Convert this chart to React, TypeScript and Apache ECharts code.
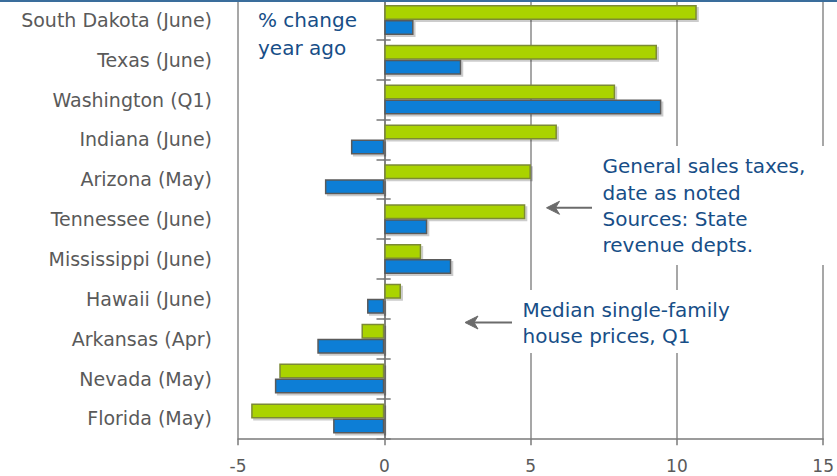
import React, { useEffect, useRef } from "react";
import * as echarts from "echarts";

const categories = [
  "South Dakota (June)",
  "Texas (June)",
  "Washington (Q1)",
  "Indiana (June)",
  "Arizona (May)",
  "Tennessee (June)",
  "Mississippi (June)",
  "Hawaii (June)",
  "Arkansas (Apr)",
  "Nevada (May)",
  "Florida (May)",
];
const salesTaxes = [10.68, 9.32, 7.89, 5.9, 5.01, 4.82, 1.26, 0.57, -0.78, -3.59, -4.55];
const housePrices = [1.0, 2.63, 9.47, -1.14, -2.03, 1.47, 2.29, -0.59, -2.29, -3.74, -1.75];
const xTicks = { min: -5, max: 15, interval: 5 };

const FONT = "DejaVu Sans";
const TEXT_BLUE = "#174e87";
const ARROW = "#6b6b6b";

export default function App() {
  const ref = useRef<HTMLDivElement>(null);
  useEffect(() => {
    if (!ref.current) return;
    const chart = echarts.init(ref.current, null, { renderer: "svg" });
    const gridLeft = 238;
    const gridWidth = 586;
    const zeroX = gridLeft + ((0 - xTicks.min) / (xTicks.max - xTicks.min)) * gridWidth;
    const catAxisBase = {
      type: "category" as const,
      data: categories,
      inverse: true,
    };
    const arrow = (tipX: number, y: number, tailX: number) => [
      { type: "line", z: 60, shape: { x1: tipX + 6, y1: y, x2: tailX, y2: y }, style: { stroke: ARROW, lineWidth: 2 } },
      {
        type: "polygon",
        z: 60,
        shape: { points: [[tipX, y], [tipX + 13, y - 6.5], [tipX + 9, y], [tipX + 13, y + 6.5]] },
        style: { fill: ARROW, stroke: ARROW, lineWidth: 1 },
      },
    ];
    chart.setOption({
      animation: false,
      grid: { left: gridLeft, width: gridWidth, top: -0.6, height: 438.9, containLabel: false },
      xAxis: {
        type: "value",
        min: xTicks.min,
        max: xTicks.max,
        interval: xTicks.interval,
        axisLine: { show: true, onZero: false, lineStyle: { color: "#7a7a7a", width: 1.5 } },
        axisTick: { show: true, length: 7, lineStyle: { color: "#7a7a7a", width: 1.5 } },
        splitLine: { show: true, lineStyle: { color: "#8a8a8a", width: 1.5 } },
        axisLabel: {
          color: "#5a5a5a",
          fontSize: 17,
          fontFamily: FONT,
          margin: 19,
          formatter: (v: number) => String(v),
        },
      },
      yAxis: [
        {
          ...catAxisBase,
          position: "left",
          axisLine: { show: false, onZero: false },
          axisTick: { show: false },
          axisLabel: { color: "#5a5a5a", fontSize: 19, fontFamily: FONT, margin: 26 },
        },
        {
          ...catAxisBase,
          position: "left",
          offset: -(zeroX - gridLeft),
          axisLine: { show: true, onZero: false, lineStyle: { color: "#777", width: 1.5 } },
          axisTick: { show: true, inside: false, length: 8, lineStyle: { color: "#777", width: 1.5 } },
          axisLabel: { show: false },
        },
        {
          ...catAxisBase,
          position: "right",
          offset: -(gridLeft + gridWidth - zeroX),
          axisLine: { show: false, onZero: false },
          axisTick: { show: true, inside: false, length: 7, lineStyle: { color: "#777", width: 1.5 } },
          axisLabel: { show: false },
        },
      ],
      series: [
        {
          name: "General sales taxes",
          type: "bar",
          data: salesTaxes,
          barWidth: 15,
          barGap: "0%",
          itemStyle: {
            color: "#aad300",
            borderColor: "#7c8a35",
            borderWidth: 1.5,
            shadowColor: "rgba(0,0,0,0.2)",
            shadowOffsetX: 2,
            shadowOffsetY: 2,
            shadowBlur: 1,
          },
        },
        {
          name: "Median single-family house prices",
          type: "bar",
          data: housePrices,
          barWidth: 15,
          barGap: "0%",
          itemStyle: {
            color: "#0a7ed6",
            borderColor: "#5a5a5a",
            borderWidth: 1.5,
            shadowColor: "rgba(0,0,0,0.2)",
            shadowOffsetX: 2,
            shadowOffsetY: 2,
            shadowBlur: 1,
          },
        },
      ],
      graphic: [
        { type: "line", z: 100, shape: { x1: 0, y1: 1, x2: 837, y2: 1 }, style: { stroke: "#3a6d9c", lineWidth: 2 } },
        { type: "rect", z: 50, shape: { x: 596, y: 146, width: 241, height: 119 }, style: { fill: "#fff" } },
        { type: "rect", z: 50, shape: { x: 518, y: 290, width: 222, height: 63 }, style: { fill: "#fff" } },
        {
          type: "text",
          z: 60,
          left: 258,
          top: 6.5,
          style: { text: "% change\nyear ago", font: `20px "${FONT}"`, fill: TEXT_BLUE, lineHeight: 27.7 },
        },
        {
          type: "text",
          z: 60,
          left: 602.5,
          top: 153.3,
          style: {
            text: "General sales taxes,\ndate as noted\nSources: State\nrevenue depts.",
            font: `20px "${FONT}"`,
            fill: TEXT_BLUE,
            lineHeight: 26.2,
          },
        },
        {
          type: "text",
          z: 60,
          left: 522.5,
          top: 297.4,
          style: {
            text: "Median single-family\nhouse prices, Q1",
            font: `20px "${FONT}"`,
            fill: TEXT_BLUE,
            lineHeight: 26,
          },
        },
        ...arrow(546.5, 207.8, 592),
        ...arrow(465, 322.5, 512),
      ],
    });
    return () => chart.dispose();
  }, []);
  return (
    <div
      ref={ref}
      style={{ position: "fixed", left: 0, top: 0, width: 837, height: 476, background: "#fff" }}
    />
  );
}
